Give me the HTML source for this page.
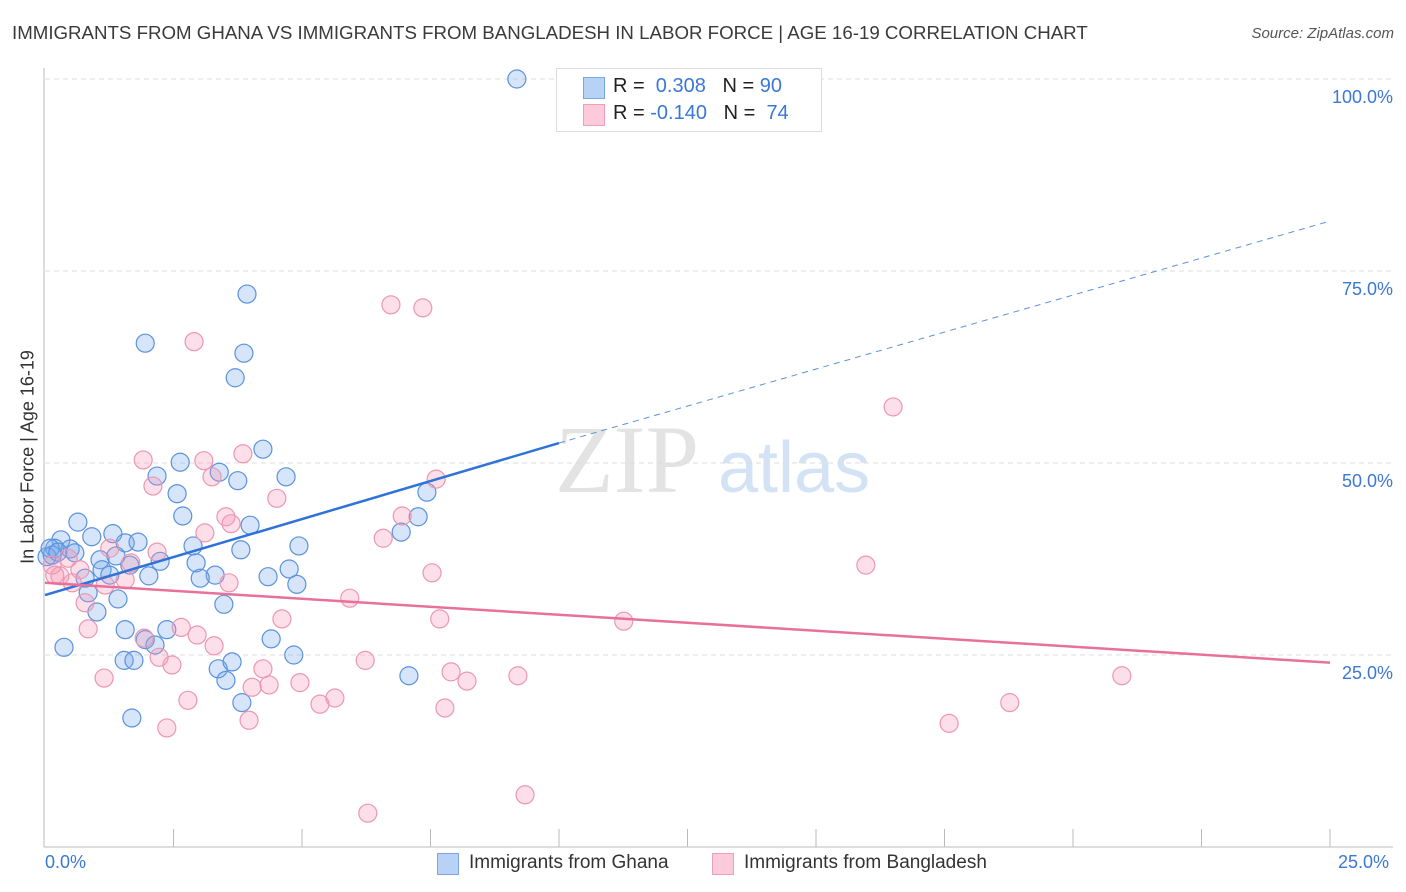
<!DOCTYPE html>
<html><head><meta charset="utf-8">
<style>
body{margin:0;background:#fff;font-family:"Liberation Sans",sans-serif;}
#wrap{position:relative;width:1406px;height:892px;overflow:hidden;}
.t{position:absolute;white-space:nowrap;}
</style></head>
<body>
<div id="wrap">
<div class="t" style="left:12px;top:22px;font-size:18.7px;color:#3a3a3a;">IMMIGRANTS FROM GHANA VS IMMIGRANTS FROM BANGLADESH IN LABOR FORCE | AGE 16-19 CORRELATION CHART</div>
<div class="t" style="right:12px;top:25px;font-size:15px;color:#555;font-style:italic;">Source: ZipAtlas.com</div>
<svg id="plot" width="1406" height="892" style="position:absolute;left:0;top:0;">
<text x="555" y="492" font-size="96" font-family="Liberation Serif" fill="#e3e3e3">ZIP</text>
<text x="718" y="492" font-size="72" fill="#d3e2f5">atlas</text>
</svg>
<div style="position:absolute;left:556px;top:68px;width:264px;height:62px;border:1px solid #ddd;background:#fff;">
<div style="position:absolute;left:26px;top:8px;width:20px;height:20px;background:#b7d2f5;border:1px solid #7aa7e0;"></div>
<div style="position:absolute;left:26px;top:35px;width:20px;height:20px;background:#fccadb;border:1px solid #eda0b9;"></div>
<div class="t" style="left:56px;top:6px;font-size:20px;color:#222;">R = &nbsp;<span style="color:#3a78d6">0.308</span> &nbsp;&nbsp;N = <span style="color:#3a78d6">90</span></div>
<div class="t" style="left:56px;top:33px;font-size:20px;color:#222;">R = <span style="color:#3a78d6">-0.140</span> &nbsp;&nbsp;N = &nbsp;<span style="color:#3a78d6">74</span></div>
</div>
<div class="t" style="left:28px;top:457px;font-size:18px;color:#333;transform:translate(-50%,-50%) rotate(-90deg);">In Labor Force | Age 16-19</div>
<div class="t" style="left:45px;top:852px;font-size:18px;color:#3a78d6;">0.0%</div>
<div class="t" style="left:1338px;top:852px;font-size:18px;color:#3a78d6;">25.0%</div>
<div style="position:absolute;left:437px;top:853px;">
<div style="position:absolute;left:0;top:0;width:20px;height:20px;background:#b7d2f5;border:1px solid #7aa7e0;"></div>
<div class="t" style="left:32px;top:-1px;font-size:19px;color:#333;">Immigrants from Ghana</div></div>
<div style="position:absolute;left:712px;top:853px;">
<div style="position:absolute;left:0;top:0;width:20px;height:20px;background:#fccadb;border:1px solid #eda0b9;"></div>
<div class="t" style="left:32px;top:-1px;font-size:19px;color:#333;">Immigrants from Bangladesh</div></div>
</div>
<script>
const yTicks=[25,50,75,100];
const yTickLabels=["25.0%","50.0%","75.0%","100.0%"];
const xTicks=[2.5,5,7.5,10,12.5,15,17.5,20,22.5,25];
const ghanaX=[9.18,1.95,3.93,3.87,3.70,4.24,2.63,2.18,4.69,3.75,3.39,2.57,2.68,3.99,0.64,1.32,0.31,0.91,1.56,1.81,2.88,3.81,4.94,0.19,0.49,0.14,0.04,1.07,2.24,1.38,1.65,1.11,2.02,2.94,3.31,3.02,4.34,4.75,4.90,0.78,0.84,1.42,1.01,3.48,1.56,2.37,1.95,2.14,4.40,4.84,0.37,1.54,1.73,3.37,3.64,3.52,3.83,1.69,7.08,6.93,7.26,7.43,0.10,0.25,0.58,1.26];
const ghanaY=[100,65.6,72.0,64.3,61.1,51.8,50.1,48.3,48.2,47.7,48.8,46.0,43.1,41.9,42.3,40.8,40.0,40.4,39.6,39.7,39.2,38.7,39.2,38.9,38.8,38.0,37.8,37.4,37.2,37.9,36.7,36.1,35.3,37.0,35.4,35.0,35.2,36.2,34.2,35.0,33.1,32.3,30.6,31.6,28.3,28.3,27.0,26.3,27.1,25.0,26.0,24.3,24.3,23.2,24.1,21.7,18.8,16.8,22.3,41.0,43.0,46.2,38.9,38.4,38.3,35.4];
const bangX=[6.73,7.35,2.90,16.50,15.97,1.91,3.09,3.85,2.10,3.25,4.51,3.52,3.11,3.62,7.61,6.95,6.58,2.18,7.53,5.93,3.58,4.61,7.68,11.26,0.84,2.65,2.96,3.29,1.93,2.22,2.47,4.24,1.15,6.23,7.90,8.21,9.20,4.96,4.36,4.03,2.78,5.35,5.64,7.78,3.97,2.37,17.59,18.77,20.95,6.28,9.34,0.78,1.17,1.56,0.29,0.53,1.26,1.67,0.68,0.45,0.14,0.19];
const bangY=[70.6,70.2,65.8,57.3,36.7,50.4,50.3,51.2,47.0,48.2,45.4,43.0,40.9,42.1,47.9,43.1,40.2,38.4,35.7,32.4,34.4,29.7,29.7,29.4,28.4,28.6,27.6,26.2,27.2,24.7,23.7,23.2,22.0,24.3,22.8,21.6,22.3,21.4,21.1,20.8,19.1,18.6,19.4,18.1,16.5,15.5,16.1,18.8,22.3,4.4,6.8,31.8,34.1,34.8,35.3,34.4,38.9,37.0,36.1,37.6,36.7,35.4];
const ghanaTrend=[32.8,52.6,81.5];
const bangTrend=[34.4,24.0];
const NS="http://www.w3.org/2000/svg";
const svg=document.getElementById('plot');
const sx=v=>45+v/25*1285, sy=v=>847-v/100*768;
function mk(t,a){const e=document.createElementNS(NS,t);for(const k in a)e.setAttribute(k,a[k]);svg.appendChild(e);return e;}
yTicks.forEach((v,i)=>{
 const g=mk('line',{x1:45,x2:1393,y1:sy(v),y2:sy(v),stroke:'#ddd','stroke-dasharray':'5,4'});
 
 
 const t=mk('text',{x:1393,y:sy(v)+24,'text-anchor':'end','font-size':18,fill:'#3a78d6'});
 t.textContent=yTickLabels[i];
 
 
});
const ax=mk('line',{x1:44,x2:44,y1:68,y2:847,stroke:'#bbb'});


const bx=mk('line',{x1:44,x2:1393,y1:847,y2:847,stroke:'#bbb'});


xTicks.forEach(v=>{
 const t=mk('line',{x1:sx(v),x2:sx(v),y1:829,y2:847,stroke:'#bbb'});
 
 
});
ghanaX.forEach((x,i)=>{
 const c=mk('circle',{cx:sx(x),cy:sy(ghanaY[i]),r:9,fill:'rgba(120,170,235,0.3)',stroke:'#5a92de','stroke-width':1.2});
 
 
});
bangX.forEach((x,i)=>{
 const c=mk('circle',{cx:sx(x),cy:sy(bangY[i]),r:9,fill:'rgba(245,150,180,0.3)',stroke:'#ec97b2','stroke-width':1.2});
 
 
});
const l1=mk('line',{x1:sx(0),y1:sy(ghanaTrend[0]),x2:sx(10),y2:sy(ghanaTrend[1]),stroke:'#2f72d8','stroke-width':2.5});


const l2=mk('line',{x1:sx(10),y1:sy(ghanaTrend[1]),x2:sx(25),y2:sy(ghanaTrend[2]),stroke:'#5a92de','stroke-width':1,'stroke-dasharray':'6,5'});


const l3=mk('line',{x1:sx(0),y1:sy(bangTrend[0]),x2:sx(25),y2:sy(bangTrend[1]),stroke:'#e8709a','stroke-width':2.5});


</script>
</body></html>
